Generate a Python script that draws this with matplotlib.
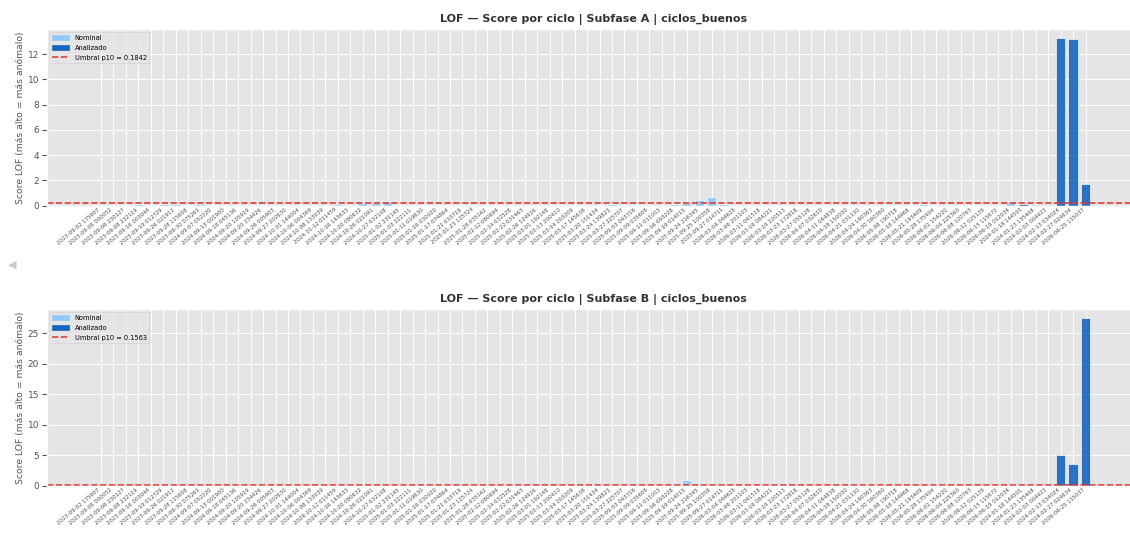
import matplotlib
matplotlib.use("Agg")
import matplotlib.pyplot as plt
import matplotlib.patches as mpatches
from matplotlib.lines import Line2D
import numpy as np

plt.style.use('ggplot')

# cycle labels (timestamp of each cycle)
labels = [
    "2023-09-02 175907", "2023-09-05 000052", "2023-09-06 230127", "2023-09-08 232119",
    "2023-09-16 003044", "2023-09-19 012729", "2023-09-26 021912", "2023-09-28 115608",
    "2023-09-30 075261", "2024-09-07 052220", "2024-09-13 001900", "2024-09-18 045136",
    "2024-09-20 105919", "2024-09-20 234926", "2024-09-26 005903", "2024-09-27 202630",
    "2024-10-01 144004", "2024-10-06 004369", "2024-10-08 133039", "2024-10-12 011459",
    "2024-10-16 143633", "2024-10-20 080632", "2024-10-26 021091", "2024-10-27 032108",
    "2025-01-02 231145", "2025-01-03 222111", "2025-01-11 019630", "2025-01-16 030020",
    "2025-01-17 074864", "2025-01-21 033719", "2025-01-23 125724", "2025-01-28 035162",
    "2025-02-12 080694", "2025-02-14 032528", "2025-02-22 031463", "2025-02-26 124916",
    "2025-03-01 192148", "2025-03-13 200410", "2025-03-14 203209", "2025-03-17 145638",
    "2025-03-20 151434", "2025-03-24 139823", "2025-03-27 225707", "2025-09-03 043316",
    "2025-09-09 035608", "2025-09-11 011003", "2025-09-16 093228", "2025-09-19 014015",
    "2025-09-24 216345", "2025-09-25 100358", "2025-09-27 014711", "2026-03-04 044628",
    "2026-03-06 201103", "2026-03-11 041518", "2026-03-16 084221", "2026-03-19 220513",
    "2026-03-23 172818", "2026-03-27 055128", "2026-04-07 032610", "2026-04-11 044838",
    "2026-04-18 150030", "2026-04-21 031130", "2026-04-24 190363", "2026-04-30 160360",
    "2026-05-08 190718", "2026-05-18 144968", "2026-05-21 193409", "2026-05-28 175404",
    "2026-06-01 154220", "2026-06-04 225360", "2026-06-08 120763", "2026-06-12 025139",
    "2026-06-15 115672", "2026-06-19 012034", "2024-01-18 144501", "2024-01-23 135408",
    "2024-02-03 004423", "2024-02-13 034024", "2024-02-27 024634", "2026-06-25 115037",
]

# Subfase A scores
nominal_a = [
    0.06, 0.04, 0.08, 0.14, 0.07, 0.13, 0.14, 0.09, 0.12, 0.05,
    0.03, 0.06, 0.04, 0.07, 0.05, 0.08, 0.06, 0.04, 0.09, 0.15,
    0.07, 0.20, 0.24, 0.34, 0.08, 0.05, 0.06, 0.04, 0.07, 0.05,
    0.03, 0.06, 0.08, 0.05, 0.04, 0.07, 0.06, 0.05, 0.09, 0.04,
    0.06, 0.16, 0.07, 0.05, 0.04, 0.06, 0.10, 0.21, 0.45, 0.69,
    0.15, 0.08, 0.05, 0.06, 0.04, 0.07, 0.05, 0.06, 0.04, 0.08,
    0.05, 0.07, 0.06, 0.04, 0.05, 0.09, 0.14, 0.06, 0.05, 0.07,
    0.04, 0.06, 0.08, 0.33,
]
analizado_a = [0.12, 0.09, 0.08, 13.31, 13.22, 1.74]
umbral_a = 0.1842

# Subfase B scores
nominal_b = [
    0.04, 0.03, 0.05, 0.06, 0.04, 0.05, 0.07, 0.04, 0.06, 0.03,
    0.05, 0.04, 0.06, 0.03, 0.05, 0.04, 0.06, 0.05, 0.04, 0.07,
    0.05, 0.06, 0.08, 0.13, 0.05, 0.04, 0.06, 0.03, 0.05, 0.04,
    0.06, 0.05, 0.04, 0.06, 0.03, 0.05, 0.04, 0.06, 0.05, 0.04,
    0.06, 0.07, 0.05, 0.04, 0.06, 0.05, 0.09, 0.95, 0.08, 0.10,
    0.06, 0.05, 0.04, 0.06, 0.03, 0.05, 0.04, 0.06, 0.05, 0.04,
    0.07, 0.16, 0.05, 0.04, 0.06, 0.05, 0.07, 0.04, 0.05, 0.06,
    0.04, 0.05, 0.06, 0.10,
]
analizado_b = [0.22, 0.20, 0.12, 5.1, 3.6, 27.5]
umbral_b = 0.1563

C_NOM = "#90CAF9"
C_ANA = "#1565C0"

fig = plt.figure(figsize=(11.3, 5.43), dpi=100)
ax_a = fig.add_axes([0.0413, 0.6212, 0.9675, 0.3249])
ax_b = fig.add_axes([0.0413, 0.1050, 0.9675, 0.3254])


def plot_subfase(ax, nominal, analizado, umbral, subfase):
    x_nom = np.arange(len(nominal))
    x_ana = np.arange(len(nominal), len(nominal) + len(analizado))
    ax.bar(x_nom, nominal, width=0.75, color=C_NOM, edgecolor="white",
           linewidth=0.5, alpha=0.9)
    ax.bar(x_ana, analizado, width=0.75, color=C_ANA, edgecolor="white",
           linewidth=0.5, alpha=0.9)
    ax.axhline(umbral, color="#e53935", linestyle="--", linewidth=1.2)
    ax.set_xticks(np.arange(len(labels)))
    ax.set_xticklabels(labels, rotation=40, ha="right", fontsize=3.9, color="#4d4d4d")
    ax.tick_params(axis="y", labelsize=6.5, pad=2)
    ax.tick_params(axis="x", length=0, pad=1)
    ax.grid(True, color="white", linewidth=0.8)
    ax.set_ylabel("Score LOF (más alto = más anómalo)", fontsize=6.7,
                  color="#555555", labelpad=2)
    ax.set_title(f"LOF — Score por ciclo | Subfase {subfase} | ciclos_buenos",
                 fontsize=8, fontweight="bold", color="#333333", pad=5)
    handles = [
        mpatches.Patch(color=C_NOM, label="Nominal"),
        mpatches.Patch(color=C_ANA, label="Analizado"),
        Line2D([0], [0], color="#e53935", linestyle="--", linewidth=1.2,
               label=f"Umbral p10 = {umbral:.4f}"),
    ]
    ax.legend(handles=handles, loc="upper left", fontsize=4.8, handlelength=2.6,
              labelspacing=0.6, borderaxespad=0.4)


plot_subfase(ax_a, nominal_a, analizado_a, umbral_a, "A")
plot_subfase(ax_b, nominal_b, analizado_b, umbral_b, "B")

fig.text(0.007, 0.512, "◀", color="#c8c8c8", fontsize=8, va="center")

fig.savefig("out.png", dpi=100)
